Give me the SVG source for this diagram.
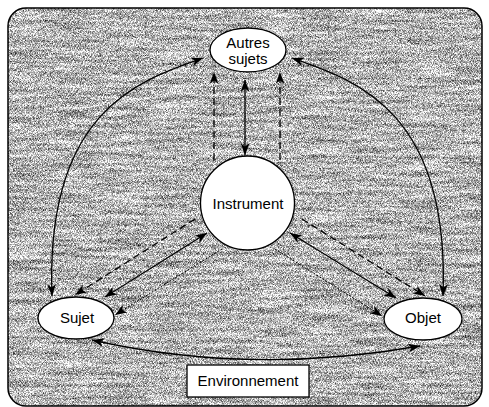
<svg xmlns="http://www.w3.org/2000/svg" width="489" height="407" viewBox="0 0 489 407">
<defs>
<filter id="tex" x="0" y="0" width="100%" height="100%" color-interpolation-filters="sRGB">
<feTurbulence type="fractalNoise" baseFrequency="1.4" numOctaves="1" seed="3"/>
<feColorMatrix type="matrix" values="1 0 0 0 0  1 0 0 0 0  1 0 0 0 0  0 0 0 0 1" result="fine"/>
<feTurbulence type="fractalNoise" baseFrequency="0.02 0.25" numOctaves="2" seed="7"/>
<feColorMatrix type="matrix" values="1 0 0 0 0  1 0 0 0 0  1 0 0 0 0  0 0 0 0 1" result="streak"/>
<feComposite in="fine" in2="streak" operator="arithmetic" k1="0" k2="1.7" k3="0.6" k4="-0.44" result="mix"/>
<feComposite in="mix" in2="SourceGraphic" operator="in"/>
</filter>
<marker id="ah" viewBox="0 0 12 9" refX="12" refY="4.5" markerWidth="12" markerHeight="9" markerUnits="userSpaceOnUse" orient="auto-start-reverse">
<path d="M0,0 L12,4.5 L0,9 L3.5,4.5 z" fill="#000"/>
</marker>
<style>
.node{fill:#fff;stroke:#000;stroke-width:1.3}
.lbl{font-family:"Liberation Sans",Arial,sans-serif;font-size:15px;fill:#000;text-anchor:middle}
.c{fill:none;stroke:#000;stroke-width:1.3}
.dash{stroke-dasharray:7 4}
.dot{stroke-dasharray:2 1.5;stroke-width:1}
.two{marker-start:url(#ah);marker-end:url(#ah)}
.one{marker-end:url(#ah)}
</style>
</defs>
<rect x="8" y="8" width="474" height="398" rx="18" fill="#999" filter="url(#tex)"/>
<rect x="8" y="8" width="474" height="398" rx="18" fill="none" stroke="#000" stroke-width="1.5"/>
<g id="connectors">
<path class="c two" d="M52,296 C45,110 140,80 203,58"/>
<path class="c two" d="M443,296 C450,110 355,80 292,58"/>
<path class="c two" d="M92,340 Q250,376 420,346"/>
<path class="c two" d="M245,80 L245,155"/>
<path class="c dash one" d="M214,160 L214,72"/>
<path class="c dash one" d="M280,160 L280,72"/>
<path class="c two" d="M207,233 L105,297"/>
<path class="c dash one" d="M195,219 L75,295"/>
<path class="c dot one" d="M222,249 L115,315"/>
<path class="c two" d="M290,233 L396,298"/>
<path class="c dash one" d="M302,219 L425,296"/>
<path class="c dot one" d="M275,249 L382,316"/>
</g>
<g id="autres">
<ellipse class="node" cx="248" cy="50" rx="38" ry="22"/>
<text class="lbl" x="248" y="48">Autres</text>
<text class="lbl" x="248" y="64">sujets</text>
</g>
<g id="instrument">
<circle class="node" cx="247.5" cy="203" r="47"/>
<text class="lbl" x="248" y="209">Instrument</text>
</g>
<g id="sujet">
<ellipse class="node" cx="76" cy="318" rx="38" ry="21"/>
<text class="lbl" x="77" y="323">Sujet</text>
</g>
<g id="objet">
<ellipse class="node" cx="423" cy="319" rx="39" ry="21"/>
<text class="lbl" x="423" y="323">Objet</text>
</g>
<g id="environnement">
<rect x="187" y="365" width="122" height="32" fill="#fff" stroke="#000" stroke-width="1.3"/>
<text class="lbl" x="248" y="386">Environnement</text>
</g>
</svg>
